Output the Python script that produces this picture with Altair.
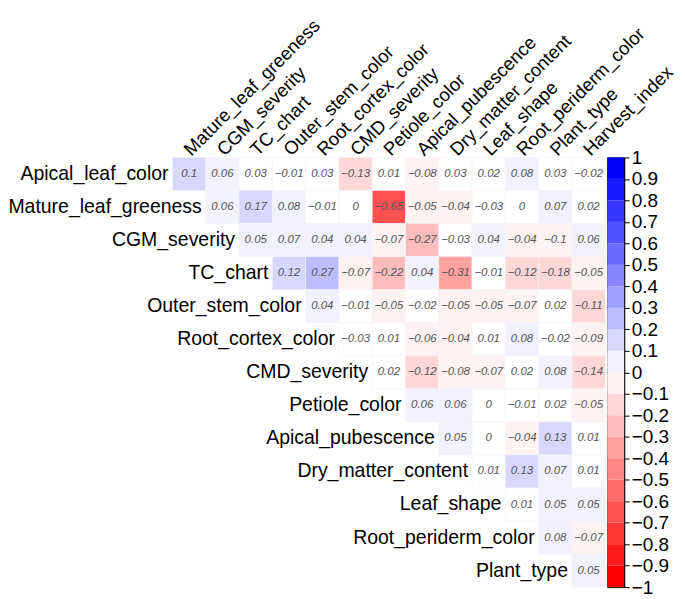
import altair as alt
import pandas as pd

rows = ["Apical_leaf_color", "Mature_leaf_greeness", "CGM_severity", "TC_chart",
        "Outer_stem_color", "Root_cortex_color", "CMD_severity", "Petiole_color",
        "Apical_pubescence", "Dry_matter_content", "Leaf_shape", "Root_periderm_color",
        "Plant_type"]
cols = ["Mature_leaf_greeness", "CGM_severity", "TC_chart", "Outer_stem_color",
        "Root_cortex_color", "CMD_severity", "Petiole_color", "Apical_pubescence",
        "Dry_matter_content", "Leaf_shape", "Root_periderm_color", "Plant_type",
        "Harvest_index"]

# upper-triangle values, row by row (starting at the diagonal column)
r_apical_leaf = [0.1, 0.06, 0.03, -0.01, 0.03, -0.13, 0.01, -0.08, 0.03, 0.02, 0.08, 0.03, -0.02]
r_mature_leaf = [0.06, 0.17, 0.08, -0.01, 0, -0.65, -0.05, -0.04, -0.03, 0, 0.07, 0.02]
r_cgm = [0.05, 0.07, 0.04, 0.04, -0.07, -0.27, -0.03, 0.04, -0.04, -0.1, 0.06]
r_tc = [0.12, 0.27, -0.07, -0.22, 0.04, -0.31, -0.01, -0.12, -0.18, -0.05]
r_outer_stem = [0.04, -0.01, -0.05, -0.02, -0.05, -0.05, -0.07, 0.02, -0.11]
r_root_cortex = [-0.03, 0.01, -0.06, -0.04, 0.01, 0.08, -0.02, -0.09]
r_cmd = [0.02, -0.12, -0.08, -0.07, 0.02, 0.08, -0.14]
r_petiole = [0.06, 0.06, 0, -0.01, 0.02, -0.05]
r_apical_pub = [0.05, 0, -0.04, 0.13, 0.01]
r_dry_matter = [0.01, 0.13, 0.07, 0.01]
r_leaf_shape = [0.01, 0.05, 0.05]
r_root_periderm = [0.08, -0.07]
r_plant_type = [0.05]

row_values = [r_apical_leaf, r_mature_leaf, r_cgm, r_tc, r_outer_stem, r_root_cortex,
              r_cmd, r_petiole, r_apical_pub, r_dry_matter, r_leaf_shape,
              r_root_periderm, r_plant_type]

# colour bar bins and ticks
bar_lo = [-1.0, -0.9, -0.8, -0.7, -0.6, -0.5, -0.4, -0.3, -0.2, -0.1,
          0.0, 0.1, 0.2, 0.3, 0.4, 0.5, 0.6, 0.7, 0.8, 0.9]
bar_hi = [-0.9, -0.8, -0.7, -0.6, -0.5, -0.4, -0.3, -0.2, -0.1, 0.0,
          0.1, 0.2, 0.3, 0.4, 0.5, 0.6, 0.7, 0.8, 0.9, 1.0]
bar_ticks = [-1, -0.9, -0.8, -0.7, -0.6, -0.5, -0.4, -0.3, -0.2, -0.1, 0,
             0.1, 0.2, 0.3, 0.4, 0.5, 0.6, 0.7, 0.8, 0.9, 1]

thresholds = [-0.9, -0.8, -0.7, -0.6, -0.5, -0.4, -0.3, -0.2, -0.1, -0.035,
              0.035, 0.1, 0.2, 0.3, 0.4, 0.5, 0.6, 0.7, 0.8, 0.9]
palette = ["#FF0000", "#FF1B1B", "#FF3636", "#FF5151", "#FF6B6B", "#FF8686",
           "#FFA1A1", "#FFBCBC", "#FFD7D7", "#FFF2F2", "#FFFFFF",
           "#F2F2FF", "#D7D7FF", "#BCBCFF", "#A1A1FF", "#8686FF", "#6B6BFF",
           "#5151FF", "#3636FF", "#1B1BFF", "#0000FF"]
color_scale = alt.Scale(type="threshold", domain=thresholds, range=palette)

cells = []
for i, (rname, vals) in enumerate(zip(rows, row_values)):
    for k, v in enumerate(vals):
        cells.append({"row": rname, "col": cols[i + k], "value": v})
cells_df = pd.DataFrame(cells)
rowlab_df = pd.DataFrame({"row": rows, "col": cols})
collab_df = pd.DataFrame({"col": cols})

FONT = "Liberation Sans"
W, H = 434, 431
cw = W / len(cols)

xenc = alt.X("col:N", sort=cols, axis=None, scale=alt.Scale(paddingInner=0, paddingOuter=0))
yenc = alt.Y("row:N", sort=rows, axis=None, scale=alt.Scale(paddingInner=0, paddingOuter=0))

tiles = alt.Chart(cells_df).mark_rect(stroke="#F4F4FA", strokeWidth=0.6).encode(
    x=xenc, y=yenc,
    color=alt.Color("value:Q", scale=color_scale, legend=None),
)
numbers = alt.Chart(cells_df).mark_text(
    font=FONT, fontSize=11.5, fontStyle="italic", color="#555555"
).encode(x=xenc, y=yenc, text=alt.Text("value:Q", format=".2~f"))

row_labels = alt.Chart(rowlab_df).mark_text(
    font=FONT, fontSize=19.5, color="black", align="right", baseline="middle",
    dx=-(cw / 2 + 4)
).encode(x=xenc, y=yenc, text="row:N")

col_labels = alt.Chart(collab_df).mark_text(
    font=FONT, fontSize=18.5, color="black", align="left", baseline="middle",
    angle=315, dx=-3, dy=0
).encode(x=xenc, y=alt.value(-7), text="col:N")

heat = alt.layer(tiles, numbers, row_labels, col_labels).properties(
    width=W, height=H, view=alt.ViewBackground(stroke=None)
)

bar_df = pd.DataFrame({"lo": bar_lo, "hi": bar_hi,
                       "mid": [(a + b) / 2 for a, b in zip(bar_lo, bar_hi)]})
bar = alt.Chart(bar_df).mark_rect().encode(
    y=alt.Y("lo:Q", scale=alt.Scale(domain=[-1, 1], nice=False, zero=False),
            axis=alt.Axis(orient="right", values=bar_ticks, format=".1~f",
                          labelFontSize=19, labelFont=FONT, labelColor="black",
                          tickColor="black", tickSize=5, domainColor="black",
                          labelOverlap=False, grid=False, title=None, labelPadding=2)),
    y2="hi:Q",
    color=alt.Color("mid:Q", scale=color_scale, legend=None),
).properties(width=17, height=H, view=alt.ViewBackground(stroke="black", strokeWidth=1))

chart = alt.hconcat(heat, bar, spacing=2, bounds="flush").properties(
    padding={"left": 0, "top": 7, "right": 0, "bottom": 2},
    background="white",
).configure_view(stroke=None)

chart.save("out.html", embed_options={"renderer": "svg", "actions": False})
